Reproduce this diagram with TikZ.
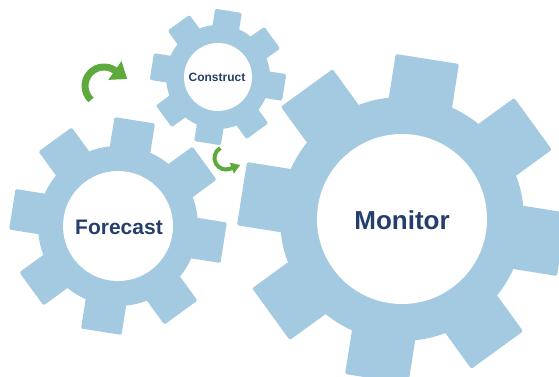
\documentclass[tikz,border=0pt]{standalone}
\usepackage{fontspec}
\setmainfont{Liberation Sans}
\usetikzlibrary{arrows.meta}
\definecolor{gearblue}{HTML}{A4CAE1}
\definecolor{arrowgreen}{HTML}{5BAA3B}
\definecolor{textnavy}{HTML}{243F6C}
\newcommand{\gearshape}[6]{%
  \begin{scope}[shift={(#1,#2)}]
    \fill[gearblue] (0,0) circle[radius=#4];
    \foreach \k in {0,...,7}{
      \fill[gearblue, rotate=81+45*\k, rounded corners=1.5pt]
        (#4-10,-#6/2) -- (#3,-#6/2) -- (#3,#6/2) -- (#4-10,#6/2) -- cycle;
    }
    \fill[white] (0,0) circle[radius=#5];
  \end{scope}}
\tikzset{
  gearlabel/.style={text=textnavy, font=\bfseries},
  turnarrow/.style={arrowgreen}
}
\begin{document}
\begin{tikzpicture}[x=1pt,y=-1pt]
\useasboundingbox (0,0) rectangle (559,377);
\begin{scope}
  \clip (0,0) rectangle (559,377);
  \gearshape{402}{219}{162}{122}{85}{64}
  \gearshape{118}{226}{107}{80}{55}{41}
  \gearshape{218}{77}{67}{52}{34}{27}
\end{scope}
\node[gearlabel, font=\bfseries\fontsize{26}{30}\selectfont] (monitor) at (402,220) {Monitor};
\node[gearlabel, font=\bfseries\fontsize{21}{25}\selectfont] (forecast) at (119,227) {Forecast};
\node[gearlabel, font=\bfseries\fontsize{12}{14}\selectfont] (construct) at (217,77) {Construct};
\coordinate (bigstart) at ([shift={(104,86)}] -227:19);
\draw[turnarrow, line width=7pt, -{Triangle[width=22pt,length=15pt]}]
  (bigstart) arc[start angle=-227, end angle=-55, radius=19] -- ++(12.3,8.6);
\coordinate (smallstart) at ([shift={(226,158)}] -120:11.5);
\draw[turnarrow, line width=4pt, -{Triangle[width=11pt,length=9pt]}]
  (smallstart) arc[start angle=-120, end angle=-290, radius=11.5] -- ++(10.3,-3.8);
\end{tikzpicture}
\end{document}
